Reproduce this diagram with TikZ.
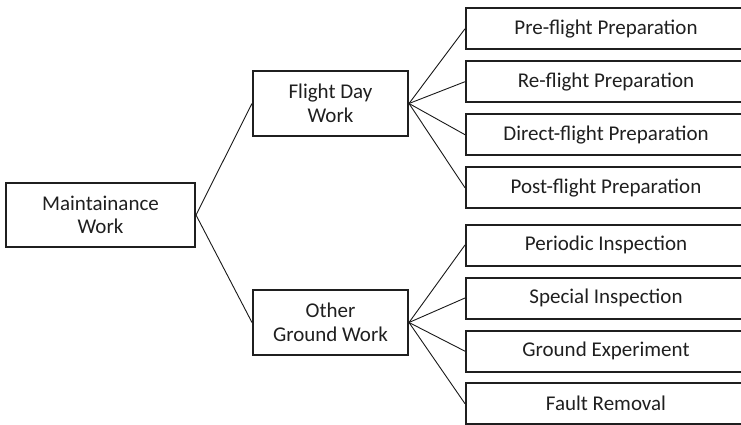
\documentclass[tikz,border=0pt]{standalone}
\usepackage{fontspec}
\setmainfont{Carlito}
\begin{document}
\begin{tikzpicture}[x=1pt,y=-1pt,
  box/.style={draw=black!88,line width=2pt,rectangle,inner sep=0pt,align=center,
    text=black!88,font=\fontsize{21}{23.5}\selectfont},
  mainbox/.style={box,minimum width=189pt,minimum height=64pt},
  midbox/.style={box,minimum width=155pt,minimum height=65pt},
  leafbox/.style={box,minimum width=280pt,minimum height=41pt},
  link/.style={draw=black!90,line width=0.9pt}]
\useasboundingbox (0,0) rectangle (741,425);
\clip (0,0) rectangle (741,425);
% root
\node[mainbox] (root) at (100.5,215) {Maintainance\\Work};
% second level
\node[midbox] (fdw) at (330.5,103.5) {Flight Day\\Work};
\node[midbox] (ogw) at (330.5,322.5) {Other\\Ground Work};
% leaves
\node[leafbox] (l1) at (606,28.8) {Pre-flight Preparation};
\node[leafbox] (l2) at (606,81.7) {Re-flight Preparation};
\node[leafbox] (l3) at (606,134.7) {Direct-flight Preparation};
\node[leafbox] (l4) at (606,187.8) {Post-flight Preparation};
\node[leafbox] (l5) at (606,245) {Periodic Inspection};
\node[leafbox] (l6) at (606,298) {Special Inspection};
\node[leafbox] (l7) at (606,351.2) {Ground Experiment};
\node[leafbox] (l8) at (606,403.7) {Fault Removal};
% connectors
\draw[link] (root.east) -- (fdw.west);
\draw[link] (root.east) -- (ogw.west);
\foreach \l in {l1,l2,l3,l4} \draw[link] (fdw.east) -- (\l.west);
\foreach \l in {l5,l6,l7,l8} \draw[link] (ogw.east) -- (\l.west);
\end{tikzpicture}
\end{document}
